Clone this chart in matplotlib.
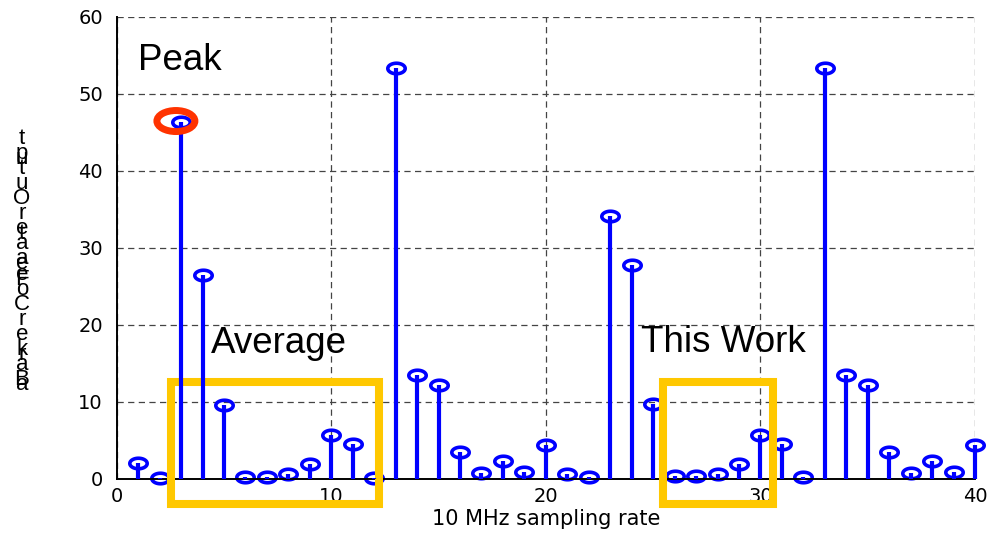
import numpy as np
import matplotlib.pyplot as plt
from matplotlib.path import Path
from matplotlib.patches import Rectangle, Ellipse

# spectrum samples, one per bin
bins = np.arange(1, 41)
power = [2.0, 0.13, 46.3, 26.5, 9.6, 0.26, 0.26, 0.57, 1.9, 5.67,
         4.5, 0.05, 53.4, 13.5, 12.2, 3.5, 0.7, 2.3, 0.9, 4.4,
         0.57, 0.18, 34.1, 27.8, 9.7, 0.35, 0.35, 0.57, 1.87, 5.67,
         4.5, 0.18, 53.4, 13.5, 12.2, 3.5, 0.7, 2.3, 0.9, 4.4]

xticks = [0, 10, 20, 30, 40]
yticks = [0, 10, 20, 30, 40, 50, 60]

# highlighted windows (x0, x1) and shared vertical extent
avg_window = (2.53, 12.22)
work_window = (25.46, 30.58)
window_y = (-3.22, 12.56)
peak_bin = 3

fig = plt.figure(figsize=(9.98, 5.4), dpi=100)
ax = fig.add_axes([0.1169, 0.1135, 0.8601, 0.8556])

# flattened circle for the stem heads
t = np.linspace(0, 2 * np.pi, 80)
oval = Path(np.column_stack([1.65 * np.cos(t), np.sin(t)]), closed=True)

markerline, stemlines, baseline = ax.stem(bins, power, linefmt='b-', basefmt=' ')
baseline.set_visible(False)
stemlines.set_linewidth(3)
stemlines.set_color('#0000ff')
stemlines.set_zorder(3)
stemlines.set_clip_on(False)
markerline.set_marker(oval)
markerline.set_markersize(12.5)
markerline.set_markerfacecolor('none')
markerline.set_markeredgecolor('#0000ff')
markerline.set_markeredgewidth(2.6)
markerline.set_zorder(2)
markerline.set_clip_on(False)

ax.set_xlim(0, 40)
ax.set_ylim(0, 60)
ax.set_xticks(xticks)
ax.set_yticks(yticks)
ax.grid(True, linestyle=(0, (5, 3.5)), color='#444444', linewidth=0.9)
ax.set_axisbelow(True)
for side in ('top', 'right'):
    ax.spines[side].set_visible(False)
for side in ('left', 'bottom'):
    ax.spines[side].set_color('black')
    ax.spines[side].set_linewidth(1.4)
    ax.spines[side].set_zorder(2.2)

ax.tick_params(length=0, labelsize=14)
ax.tick_params(axis='y', pad=10)
ax.tick_params(axis='x', pad=6)
for lab in ax.get_xticklabels() + ax.get_yticklabels():
    lab.set_family('DejaVu Sans')

ax.set_xlabel('10 MHz sampling rate', fontsize=15, family='DejaVu Sans')
ax.xaxis.set_label_coords(0.5, -0.066)

# boxes around the averaged region and the proposed method
gold = '#ffc800'
for x0, x1 in (avg_window, work_window):
    ax.add_patch(Rectangle((x0, window_y[0]), x1 - x0, window_y[1] - window_y[0],
                           fill=False, edgecolor=gold, linewidth=5.8,
                           clip_on=False, zorder=2.5))

# ring around the peak sample
ax.add_patch(Ellipse((peak_bin - 0.24, power[peak_bin - 1] + 0.15), 1.77, 2.73,
                     fill=False, edgecolor='#ff3300', linewidth=5, zorder=4))

ann = dict(fontsize=26.5, family='Liberation Sans', ha='left', va='baseline')
ax.text(1.0, 53.1, 'Peak', **ann)
ax.text(4.4, 16.3, 'Average', **ann)
ax.text(24.45, 16.4, 'This Work', **ann)

# y label drawn as two stacked columns of upright glyphs
main = 'tptuOreaaeoCrekaB'
over = ' u    t eF    r a'
col = dict(fontsize=16, family='Liberation Sans', ha='center', va='center',
           multialignment='center', linespacing=0.63)
fig.text(22 / 998, 1 - 259 / 540, '\n'.join(main), **col)
fig.text(22 / 998, 1 - 264 / 540, '\n'.join(over), **col)

fig.savefig('out.png', dpi=100)
